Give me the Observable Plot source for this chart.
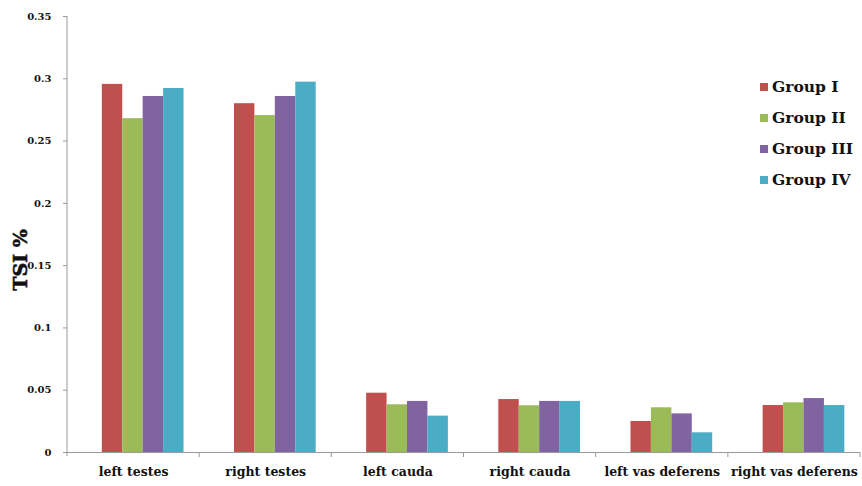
<!DOCTYPE html>
<html>
<head>
<meta charset="utf-8">
<script src="https://cdn.jsdelivr.net/npm/d3@7"></script>
<script src="https://cdn.jsdelivr.net/npm/@observablehq/plot@0.6"></script>
<style>
  html, body { margin: 0; padding: 0; background: #fff; }
  #wrap { position: relative; width: 862px; height: 486px; }
  #legend { position: absolute; left: 760px; top: 71px; font-family: "DejaVu Serif", serif; font-weight: bold; font-size: 15.5px; color: #111; }
  #legend .row { display: flex; align-items: center; height: 31px; }
  #legend .sw { width: 8px; height: 8px; margin-right: 4px; }
</style>
</head>
<body>
<div id="wrap"></div>
<script>
const categories = ["left testes", "right testes", "left cauda", "right cauda", "left vas deferens", "right vas deferens"];
const groups = ["Group I", "Group II", "Group III", "Group IV"];
const colors = ["#C0504D", "#9BBB59", "#8064A2", "#4BACC6"];
const groupI   = [0.2955, 0.2800, 0.0476, 0.0425, 0.0249, 0.0377];
const groupII  = [0.2680, 0.2705, 0.0383, 0.0375, 0.0359, 0.0399];
const groupIII = [0.2858, 0.2858, 0.0410, 0.0410, 0.0310, 0.0433];
const groupIV  = [0.2922, 0.2973, 0.0292, 0.0410, 0.0158, 0.0377];
const yTicks = [0, 0.05, 0.1, 0.15, 0.2, 0.25, 0.3, 0.35];
const yTickLabels = ["0", "0.05", "0.1", "0.15", "0.2", "0.25", "0.3", "0.35"];
const yLabel = "TSI %";

const series = [groupI, groupII, groupIII, groupIV];
const data = [];
categories.forEach((c, i) => groups.forEach((g, j) => data.push({category: c, group: g, value: series[j][i]})));

const font = "DejaVu Serif, serif";
const plot = Plot.plot({
  width: 862,
  height: 486,
  marginLeft: 67,
  marginRight: 2,
  marginTop: 16,
  marginBottom: 34,
  style: {background: "#fff", fontFamily: font},
  fx: {domain: categories, padding: 0, label: null, round: false},
  x: {domain: groups, paddingInner: 0, paddingOuter: 1.235, align: 0.69, axis: null, round: false},
  y: {domain: [0, 0.35], label: null},
  color: {domain: groups, range: colors},
  marks: [
    Plot.barY(data, {fx: "category", x: "group", y: "value", fill: "group"}),
    Plot.axisY({ticks: yTicks, tickFormat: (d, i) => yTickLabels[i], tickSize: 4, tickPadding: 12, stroke: "#999", fill: "#111", fontSize: 10, fontWeight: "bold", label: null}),
    Plot.axisFx({anchor: "bottom", tickSize: 0, tickPadding: 15, fontSize: 12.5, fontWeight: "bold", fill: "#111", label: null}),
    Plot.ruleY([0], {stroke: "#999", strokeWidth: 1})
  ]
});

document.getElementById("wrap").appendChild(plot);

// axis lines and category boundary ticks using the plot's scales
const svg = d3.select(plot);
const fx = plot.scale("fx");
const y = plot.scale("y");
const y0 = y.apply(0), y1 = y.apply(0.35);
const xStart = fx.apply(categories[0]);
const g = svg.append("g").attr("stroke", "#999").attr("stroke-width", 1);
g.append("line").attr("x1", xStart).attr("x2", xStart).attr("y1", y0 + 4).attr("y2", y1);
categories.forEach(c => {
  const xe = fx.apply(c) + fx.bandwidth;
  g.append("line").attr("x1", xe).attr("x2", xe).attr("y1", y0).attr("y2", y0 + 5);
});
svg.append("text")
  .attr("transform", `translate(27,${(y0 + y1) / 2 + 26}) rotate(-90)`)
  .attr("text-anchor", "middle")
  .attr("font-family", font)
  .attr("font-weight", "bold")
  .attr("font-size", 19)
  .attr("stroke", "#111")
  .attr("stroke-width", 0.6)
  .attr("fill", "#111")
  .text(yLabel);

// legend
const legend = d3.select("#wrap").append("div").attr("id", "legend");
groups.forEach((gname, i) => {
  const row = legend.append("div").attr("class", "row");
  row.append("div").attr("class", "sw").style("background", colors[i]);
  row.append("span").text(gname);
});
</script>
</body>
</html>
